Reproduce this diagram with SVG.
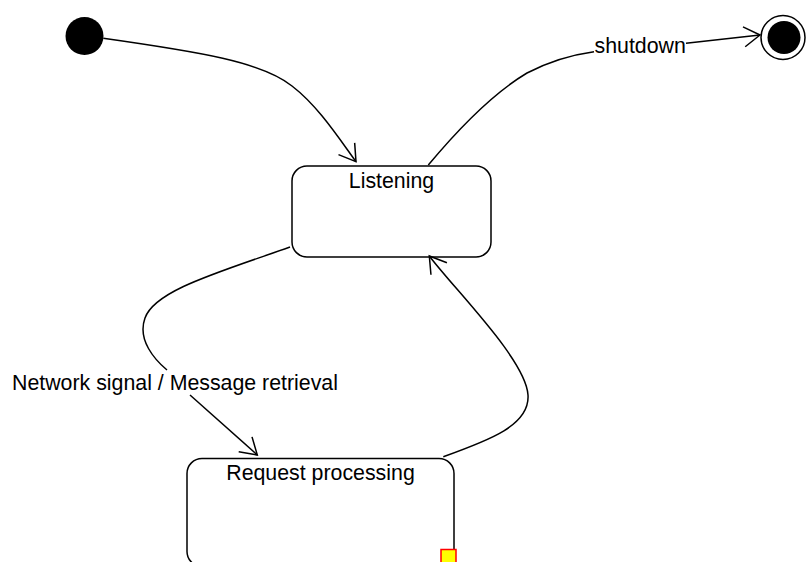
<svg xmlns="http://www.w3.org/2000/svg" width="806" height="562" viewBox="0 0 806 562">
  <style>
    .state { fill: #ffffff; stroke: #000000; stroke-width: 1.5; }
    .edge { fill: none; stroke: #000000; stroke-width: 1.5; }
    .label { font-family: "Liberation Sans", Arial, sans-serif; font-size: 21.33px; fill: #000000; }
    .name { text-anchor: middle; }
  </style>
  <defs>
    <marker id="open" markerUnits="userSpaceOnUse" orient="auto" refX="0" refY="0" markerWidth="30" markerHeight="30" overflow="visible">
      <path d="M-16,-10 L0,0 L-16,10" fill="none" stroke="#000000" stroke-width="1.5"/>
    </marker>
  </defs>
  <rect x="0" y="0" width="806" height="562" fill="#ffffff"/>

  <g id="initial">
    <circle cx="84.5" cy="36" r="19" fill="#000000"/>
  </g>

  <g id="final">
    <circle cx="783" cy="37.5" r="22" fill="#ffffff" stroke="#000000" stroke-width="1.5"/>
    <circle cx="784" cy="37.5" r="16.5" fill="#000000"/>
  </g>

  <g id="listening">
    <rect class="state" x="292" y="166" width="199" height="91" rx="15" ry="15"/>
    <text class="label name" x="391.5" y="188">Listening</text>
  </g>

  <g id="request-processing">
    <rect class="state" x="187" y="458.5" width="267" height="108" rx="15" ry="15"/>
    <text class="label name" x="320.5" y="480">Request processing</text>
    <rect x="441" y="549.5" width="15" height="15" fill="#ffff00" stroke="#ff0000" stroke-width="1.5"/>
  </g>

  <g id="connectors">
    <path class="edge" d="M103.3,38.3 C200,52 262,62 292,86 C318,106 338,137 356,161.7" marker-end="url(#open)"/>
    <path class="edge" d="M428.3,165 C455,133 490,95 527,73 C548,62 570,55 594,51.7"/>
    <path class="edge" d="M686,43.3 L760,35" marker-end="url(#open)"/>
    <text class="label" x="594.5" y="52.5">shutdown</text>
    <path class="edge" d="M290,247 C220,272 155,290 145,318 C137,340 155,360 167,370"/>
    <path class="edge" d="M190,395 L257.3,455" marker-end="url(#open)"/>
    <text class="label" x="12" y="390">Network signal / Message retrieval</text>
    <path class="edge" d="M443.3,456.7 C490,440 530,425 528,395 C526,360 455,290 429.3,256" marker-end="url(#open)"/>
  </g>
</svg>
